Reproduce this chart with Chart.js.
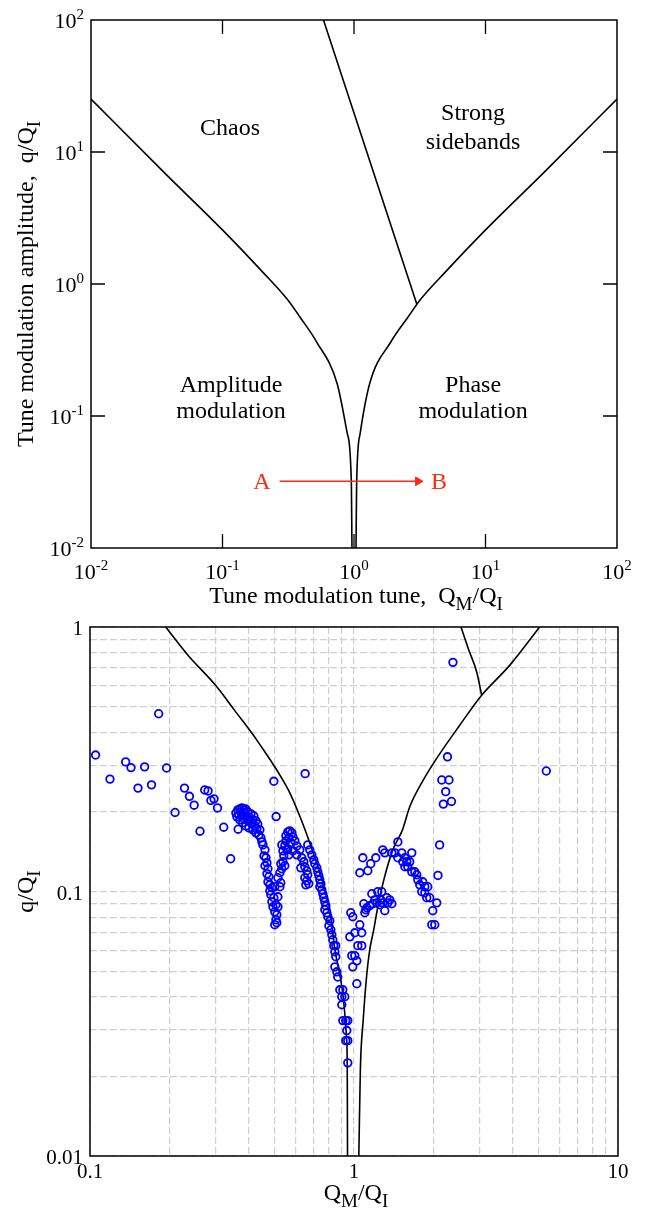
<!DOCTYPE html>
<html>
<head>
<meta charset="utf-8">
<script src="https://cdn.jsdelivr.net/npm/chart.js@4.4.0/dist/chart.umd.min.js"></script>
<style>
  html, body { margin: 0; padding: 0; background: #fff; }
  #wrap { position: relative; width: 645px; height: 1209px; overflow: hidden; }
  canvas { position: absolute; left: 0; }
  #top-chart { top: 0; }
  #bottom-chart { top: 600px; }
</style>
</head>
<body>
<div id="wrap">
  <canvas id="top-chart" width="645" height="620"></canvas>
  <canvas id="bottom-chart" width="645" height="609"></canvas>
</div>
<script>
// ===============================
// DATA - top diagram (regimes)
// ===============================

const topLeftX  = [0.01, 0.0364, 0.0995, 0.204, 0.313, 0.389, 0.519, 0.743, 0.889, 0.955, 0.965];
const topLeftY  = [25.2, 6.92, 2.58, 1.22, 0.76, 0.56, 0.365, 0.177, 0.0738, 0.0308, 0.01];
const topRightX = [1.036, 1.047, 1.114, 1.318, 1.91, 2.57, 3.19, 4.9, 10.05, 27.5, 100];
const topRightY = [0.01, 0.0308, 0.0738, 0.177, 0.365, 0.56, 0.76, 1.22, 2.58, 6.92, 25.2];
const topSteepX = [0.586, 3.01];
const topSteepY = [100, 0.70];
const arrowX = [0.272, 3.07];
const arrowY = [0.032, 0.032];

const topTickValues = [0.01, 0.1, 1, 10, 100];
const topTickPowers = ["-2", "-1", "0", "1", "2"];
const topInnerTicks = [0.1, 1, 10];

// ===============================
// DATA - bottom diagram (measurements)
// ===============================

const botLeftX  = [0.1935, 0.235, 0.299, 0.353, 0.433, 0.564, 0.624, 0.681, 0.743, 0.811, 0.847, 0.938, 0.943, 0.945];
const botLeftY  = [1, 0.782, 0.602, 0.484, 0.368, 0.242, 0.192, 0.152, 0.117, 0.085, 0.060, 0.0275, 0.0211, 0.01];
const botRightX = [1.043, 1.057, 1.084, 1.113, 1.147, 1.188, 1.225, 1.297, 1.403, 1.526, 1.626, 1.831, 2.054, 2.514, 3.045, 3.887, 5.049];
const botRightY = [0.01, 0.0212, 0.0328, 0.0464, 0.0602, 0.0717, 0.0853, 0.1107, 0.1437, 0.171, 0.209, 0.264, 0.318, 0.425, 0.552, 0.716, 1];
const botSteepX = [2.543, 2.71, 2.916, 3.045];
const botSteepY = [1, 0.828, 0.676, 0.552];

const measX = [
  // scattered, low tune
  0.182, 0.105, 0.1365, 0.143, 0.161, 0.195, 0.119, 0.152, 0.171, 0.228, 0.238, 0.248, 0.210,
  0.272, 0.280, 0.295, 0.287, 0.304, 0.261, 0.321, 0.364, 0.341, 0.497, 0.507, 0.653,
  // scattered, high tune
  2.37, 2.26, 2.15, 2.29, 2.225, 2.18, 2.34, 5.35, 2.11, 2.08,
  // first cluster
  0.357, 0.360, 0.363, 0.366, 0.3695, 0.3695, 0.373, 0.376, 0.376, 0.379, 0.383, 0.383, 0.386,
  0.389, 0.389, 0.393, 0.396, 0.396, 0.400, 0.403, 0.407, 0.410, 0.414, 0.414, 0.4175, 0.421,
  0.425, 0.425, 0.4285, 0.432, 0.436, 0.440, 0.444, 0.448,
  // first dip
  0.452, 0.460, 0.456, 0.464, 0.468, 0.460, 0.472, 0.468, 0.476, 0.472, 0.480, 0.4885, 0.480,
  0.501, 0.524, 0.528, 0.484, 0.497, 0.515, 0.4885, 0.506, 0.493, 0.515, 0.501, 0.510, 0.506,
  0.510, 0.501,
  0.515, 0.524, 0.533, 0.528, 0.538, 0.547, 0.542, 0.538, 0.533, 0.547, 0.557, 0.552,
  // second cluster
  0.5615, 0.5714, 0.5815, 0.552, 0.5665, 0.5866, 0.597, 0.5764, 0.6074, 0.5615, 0.5866, 0.6234,
  0.6074, 0.634, 0.5665, 0.6455, 0.651, 0.629, 0.6626, 0.668, 0.651, 0.6626, 0.674, 0.657,
  // along the left boundary
  0.668, 0.680, 0.692, 0.704, 0.7105, 0.723, 0.729, 0.736, 0.742, 0.749, 0.742, 0.755, 0.762,
  0.768, 0.775, 0.782, 0.775, 0.789, 0.796, 0.810, 0.803, 0.817, 0.824, 0.831, 0.838, 0.853,
  0.846, 0.853, 0.846, 0.861, 0.868, 0.8835, 0.907, 0.899, 0.923, 0.899, 0.907, 0.931, 0.947,
  0.939, 0.947, 0.931, 0.947,
  // inside the V
  0.972, 0.9895, 1.052, 1.007, 1.070, 0.964, 1.034, 1.070, 0.981, 1.007, 1.025, 0.9895, 1.025,
  // lower right cluster
  1.089, 1.099, 1.118, 1.147, 1.168, 1.178, 1.199, 1.220, 1.230, 1.252, 1.263, 1.274, 1.285,
  1.308, 1.331, 1.343, 1.366, 1.391, 1.108,
  // upper right arch
  1.080, 1.052, 1.128, 1.157, 1.209, 1.285, 1.308, 1.391, 1.466, 1.428, 1.466, 1.517, 1.558,
  1.655, 1.531, 1.585, 1.626, 1.558, 1.599, 1.655, 1.699, 1.729, 1.744, 1.774, 1.821, 1.806,
  1.854, 1.903, 1.854, 1.886, 1.936, 2.058, 1.988, 1.970, 2.023
];
const measY = [
  0.470, 0.328, 0.309, 0.294, 0.296, 0.293, 0.266, 0.246, 0.253, 0.246, 0.229, 0.212, 0.199,
  0.242, 0.240, 0.224, 0.221, 0.207, 0.169, 0.175, 0.172, 0.133, 0.261, 0.192, 0.279,
  0.735, 0.323, 0.264, 0.264, 0.2385, 0.214, 0.219, 0.2855, 0.150, 0.115,
  0.198, 0.1915, 0.2035, 0.195, 0.205, 0.1865, 0.200, 0.207, 0.193, 0.182, 0.2035, 0.188, 0.198,
  0.205, 0.177, 0.193, 0.185, 0.200, 0.174, 0.190, 0.1965, 0.180, 0.1865, 0.171, 0.193, 0.177,
  0.185, 0.1666, 0.1725, 0.180, 0.1637, 0.171, 0.1595, 0.154,
  0.150, 0.1437, 0.1364, 0.1341, 0.1284, 0.1251, 0.1219, 0.1167, 0.1137, 0.1088, 0.1060, 0.1033, 0.1006,
  0.1042, 0.1042, 0.1079, 0.0972, 0.0947, 0.0955, 0.0914, 0.0891, 0.0875, 0.0875, 0.0838, 0.0817, 0.0782,
  0.0762, 0.0749,
  0.1127, 0.1177, 0.1219, 0.1273, 0.1295, 0.1251, 0.1364, 0.1425, 0.1500, 0.1487, 0.1437, 0.1554,
  0.1680, 0.1695, 0.1666, 0.1623, 0.1595, 0.1609, 0.1554, 0.1527, 0.1487, 0.1449, 0.1425, 0.1437,
  0.1376, 0.1341, 0.1376, 0.1295, 0.1240, 0.1229, 0.1198, 0.1157, 0.1127, 0.1098, 0.1070, 0.1060,
  0.1500, 0.1437, 0.1376, 0.1318, 0.1273, 0.1229, 0.1187, 0.1147, 0.1107, 0.1070, 0.1042, 0.1015, 0.0981,
  0.0947, 0.0914, 0.0883, 0.0853, 0.0831, 0.0803, 0.0775, 0.0742, 0.0717, 0.0686, 0.0657, 0.0624, 0.0624,
  0.0592, 0.0567, 0.0519, 0.0497, 0.0475, 0.0425, 0.0425, 0.0400, 0.0400, 0.0373, 0.0325, 0.0325, 0.0325,
  0.0298, 0.0273, 0.0273, 0.0225,
  0.0831, 0.0803, 0.0749, 0.0698, 0.0698, 0.0674, 0.0624, 0.0624, 0.0572, 0.0572, 0.0547, 0.0519, 0.0448,
  0.0899, 0.0831, 0.0868, 0.0883, 0.0981, 0.0899, 0.0930, 0.0906, 0.0998, 0.0891, 0.0930, 0.0998, 0.0906,
  0.0846, 0.0947, 0.0906, 0.0930, 0.0899, 0.0853,
  0.1341, 0.1177, 0.1198, 0.1273, 0.1341, 0.1437, 0.1400, 0.1400, 0.1540, 0.1400, 0.1341, 0.1400, 0.1341,
  0.1400, 0.1295, 0.1295, 0.1295, 0.1240, 0.1240, 0.1187, 0.1187, 0.1157, 0.1107, 0.1060, 0.1088, 0.0998,
  0.1042, 0.1042, 0.0989, 0.0947, 0.0947, 0.0906, 0.0846, 0.0749, 0.0749
];

const botGridX = [0.1, 0.2, 0.3, 0.4, 0.5, 0.6, 0.7, 0.8, 0.9, 1, 2, 3, 4, 5, 6, 7, 8, 9, 10];
const botGridY = [0.01, 0.02, 0.03, 0.04, 0.05, 0.06, 0.07, 0.08, 0.09, 0.1, 0.2, 0.3, 0.4, 0.5, 0.6, 0.7, 0.8, 0.9, 1];
const botXTickValues = [0.1, 1, 10];
const botXTickLabels = ["0.1", "1", "10"];
const botYTickValues = [0.01, 0.1, 1];
const botYTickLabels = ["0.01", "0.1", "1"];

// ===============================
// HELPERS
// ===============================

const FONT = "'Liberation Serif', 'Times New Roman', serif";
const RED = "#ff2a14";
const BLUE = "#0000ff";

function pts(xs, ys) {
  return xs.map((x, i) => ({ x, y: ys[i] }));
}

function curve(xs, ys, color) {
  return {
    data: pts(xs, ys),
    showLine: true,
    borderColor: color || "#000",
    borderWidth: 1.6,
    pointRadius: 0,
    cubicInterpolationMode: "monotone",
    order: 2
  };
}

// parts: [text, size, dy]
function drawRich(ctx, parts, x, y, align) {
  let w = 0;
  parts.forEach(p => { ctx.font = p[1] + "px " + FONT; w += ctx.measureText(p[0]).width; });
  let cx = align === "right" ? x - w : align === "center" ? x - w / 2 : x;
  ctx.textAlign = "left";
  ctx.textBaseline = "alphabetic";
  parts.forEach(p => {
    ctx.font = p[1] + "px " + FONT;
    ctx.fillText(p[0], cx, y + (p[2] || 0));
    cx += ctx.measureText(p[0]).width;
  });
}

function logAxis(min, max, grid) {
  return {
    type: "logarithmic",
    min, max,
    display: !!grid,
    afterBuildTicks: scale => { if (grid) scale.ticks = grid.map(v => ({ value: v })); },
    ticks: { display: false },
    grid: { color: "#cfcfcf", lineWidth: 1.2, drawTicks: false },
    border: { display: false, dash: [7, 3] }
  };
}

// frame, inward ticks and all text, drawn on the chart scales
const framePlugin = {
  id: "frame",
  afterDraw(chart, args, opts) {
    const { ctx, chartArea: a, scales: { x, y } } = chart;
    ctx.save();
    ctx.strokeStyle = "#000";
    ctx.lineWidth = 1.5;
    ctx.strokeRect(a.left, a.top, a.right - a.left, a.bottom - a.top);

    if (opts.ticks) {
      const L = 14;
      ctx.lineWidth = 1.3;
      ctx.beginPath();
      opts.ticks.forEach(v => {
        const px = x.getPixelForValue(v);
        ctx.moveTo(px, a.bottom); ctx.lineTo(px, a.bottom - L);
        ctx.moveTo(px, a.top); ctx.lineTo(px, a.top + L);
        const py = y.getPixelForValue(v);
        ctx.moveTo(a.left, py); ctx.lineTo(a.left + L, py);
        ctx.moveTo(a.right, py); ctx.lineTo(a.right - L, py);
      });
      ctx.stroke();
    }

    ctx.fillStyle = "#000";
    (opts.xLabels || []).forEach(l => drawRich(ctx, l.parts, x.getPixelForValue(l.value), a.bottom + opts.xLabelGap, "center"));
    (opts.yLabels || []).forEach(l => drawRich(ctx, l.parts, a.left - 7, y.getPixelForValue(l.value) + 8, "right"));

    const xt = opts.xTitle;
    drawRich(ctx, xt.parts, (a.left + a.right) / 2 + 2, a.bottom + xt.gap, "center");

    const yt = opts.yTitle;
    ctx.save();
    ctx.translate(yt.x, (a.top + a.bottom) / 2);
    ctx.rotate(-Math.PI / 2);
    drawRich(ctx, yt.parts, 0, 0, "center");
    ctx.restore();

    (opts.notes || []).forEach(n => {
      ctx.fillStyle = n.color || "#000";
      drawRich(ctx, [[n.text, 24, 0]], x.getPixelForValue(n.x), y.getPixelForValue(n.y), "center");
    });
    ctx.restore();
  }
};

const baseOptions = {
  responsive: false,
  animation: false,
  events: [],
  plugins: { legend: { display: false }, tooltip: { enabled: false } }
};

// ===============================
// TOP CHART
// ===============================

new Chart(document.getElementById("top-chart"), {
  type: "scatter",
  data: {
    datasets: [
      curve(topLeftX, topLeftY),
      curve(topRightX, topRightY),
      curve(topSteepX, topSteepY),
      {
        data: pts(arrowX, arrowY),
        showLine: true,
        borderColor: RED,
        borderWidth: 1.6,
        pointRadius: [0, 5],
        pointStyle: "triangle",
        rotation: 90,
        pointBackgroundColor: RED,
        pointBorderColor: RED,
        pointBorderWidth: 1
      }
    ]
  },
  options: {
    ...baseOptions,
    layout: { padding: { left: 91, right: 28, top: 20, bottom: 72 } },
    scales: { x: logAxis(0.01, 100), y: logAxis(0.01, 100) },
    plugins: {
      ...baseOptions.plugins,
      frame: {
        ticks: topInnerTicks,
        xLabelGap: 31,
        xLabels: topTickValues.map((v, i) => ({ value: v, parts: [["10", 22, 0], [topTickPowers[i], 15, -9]] })),
        yLabels: topTickValues.map((v, i) => ({ value: v, parts: [["10", 22, 0], [topTickPowers[i], 15, -9]] })),
        xTitle: { gap: 55, parts: [["Tune modulation tune,  Q", 24, 0], ["M", 19, 7], ["/Q", 24, 0], ["I", 19, 7]] },
        yTitle: { x: 33, parts: [["Tune modulation amplitude,  q/Q", 24, 0], ["I", 19, 7]] },
        notes: [
          { text: "Chaos", x: 0.114, y: 13.5 },
          { text: "Strong", x: 8.04, y: 17.5 },
          { text: "sidebands", x: 8.04, y: 10.5 },
          { text: "Amplitude", x: 0.116, y: 0.153 },
          { text: "modulation", x: 0.116, y: 0.0966 },
          { text: "Phase", x: 8.04, y: 0.153 },
          { text: "modulation", x: 8.04, y: 0.0966 },
          { text: "A", x: 0.1995, y: 0.028, color: RED },
          { text: "B", x: 4.43, y: 0.028, color: RED }
        ]
      }
    }
  },
  plugins: [framePlugin]
});

// ===============================
// BOTTOM CHART
// ===============================

new Chart(document.getElementById("bottom-chart"), {
  type: "scatter",
  data: {
    datasets: [
      {
        data: pts(measX, measY),
        pointRadius: 3.8,
        pointBorderWidth: 1.8,
        pointBorderColor: BLUE,
        pointBackgroundColor: "rgba(0,0,0,0)",
        order: 1
      },
      curve(botLeftX, botLeftY),
      curve(botRightX, botRightY),
      curve(botSteepX, botSteepY)
    ]
  },
  options: {
    ...baseOptions,
    layout: { padding: { left: 90, right: 27, top: 27, bottom: 53 } },
    scales: { x: logAxis(0.1, 10, botGridX), y: logAxis(0.01, 1, botGridY) },
    plugins: {
      ...baseOptions.plugins,
      frame: {
        xLabelGap: 22,
        xLabels: botXTickValues.map((v, i) => ({ value: v, parts: [[botXTickLabels[i], 21, 0]] })),
        yLabels: botYTickValues.map((v, i) => ({ value: v, parts: [[botYTickLabels[i], 21, 0]] })),
        xTitle: { gap: 44, parts: [["Q", 24, 0], ["M", 19, 7], ["/Q", 24, 0], ["I", 19, 7]] },
        yTitle: { x: 33, parts: [["q/Q", 24, 0], ["I", 19, 7]] }
      }
    }
  },
  plugins: [framePlugin]
});
</script>
</body>
</html>
